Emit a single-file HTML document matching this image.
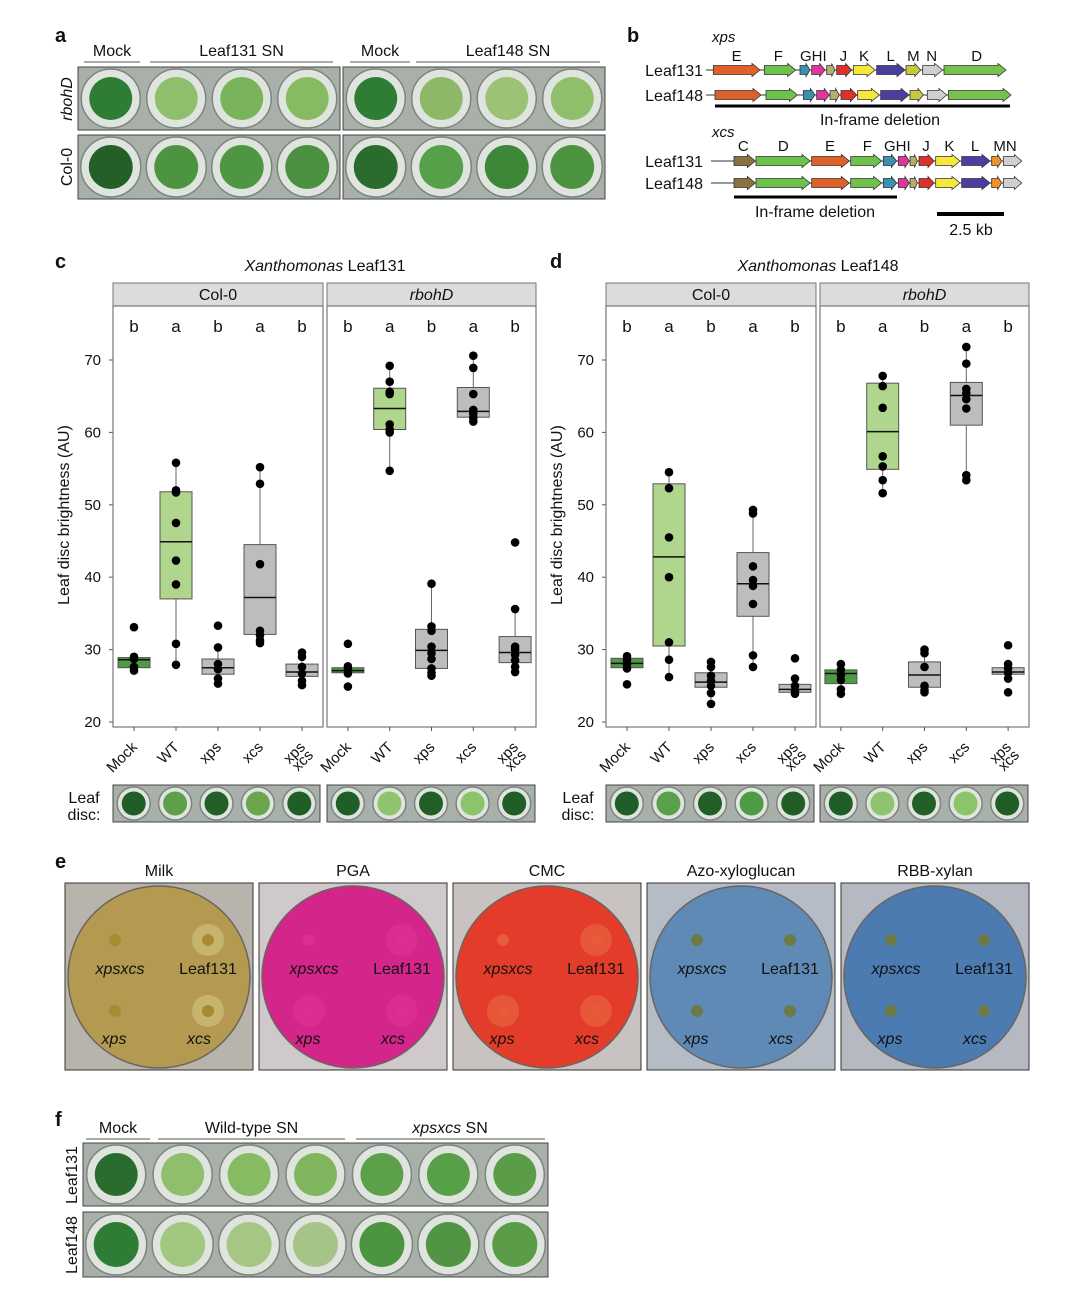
<!DOCTYPE html>
<html><head><meta charset="utf-8">
<style>
html,body{margin:0;padding:0;background:#fff;}
svg{display:block;font-family:"Liberation Sans",sans-serif;}
</style></head>
<body>
<svg id="fig" width="1080" height="1296" viewBox="0 0 1080 1296" xmlns="http://www.w3.org/2000/svg"></svg>
<script>
// ---------- data for box plots ----------
const groups = ["Mock","WT","xps","xcs","xpsxcs"];
const sigLetters = ["b","a","b","a","b"];
const yTicks = [20,30,40,50,60,70];
// panel c (Leaf131): [q1, median, q3] per group
const cColBox = [[27.5,28.6,28.9],[37,44.9,51.8],[26.6,27.5,28.7],[32.1,37.2,44.5],[26.3,26.9,28]];
const cColPts = [[33.1,29,28.7,27.6,27.1],[55.8,52,51.7,47.5,42.3,39,30.8,27.9],[33.3,30.3,28,27.3,26,25.3],[55.2,52.9,41.8,32.6,32,31.3,30.9],[29.6,29,27.6,26.7,25.7,25.1]];
const cRbBox = [[26.8,27.1,27.5],[60.4,63.3,66.1],[27.4,29.9,32.8],[62.1,62.9,66.2],[28.2,29.6,31.8]];
const cRbPts = [[30.8,27.7,27.3,26.7,24.9],[69.2,67,65.6,65.3,61.1,60.4,60,54.7],[39.1,33.2,32.6,30.4,29.5,28.7,27.4,26.8,26.4],[70.6,68.9,65.3,63.1,62.6,62,61.5],[44.8,35.6,30.4,30,29.3,28.5,27.6,26.9]];
// panel d (Leaf148)
const dColBox = [[27.5,28.1,28.8],[30.5,42.8,52.9],[24.8,25.5,26.8],[34.6,39.1,43.4],[24.1,24.5,25.2]];
const dColPts = [[29.1,28.6,28,27.4,25.2],[54.5,52.3,45.5,40,31,28.6,26.2],[28.3,27.6,26.4,25.7,25,24,22.5],[49.3,48.8,41.5,39.6,38.8,36.3,29.2,27.6],[28.8,26,25,24.3,23.9]];
const dRbBox = [[25.3,26.7,27.2],[54.9,60.1,66.8],[24.8,26.5,28.3],[61,65.1,66.9],[26.6,26.9,27.5]];
const dRbPts = [[28,27.2,26.5,25.8,24.5,23.9],[67.8,66.4,63.4,56.7,55.3,53.4,51.6],[30,29.5,27.6,25,24.4,24.1],[71.8,69.5,66,65.4,64.6,63.3,54.1,53.4],[30.6,28,27.4,26.8,26,24.1]];

const NS="http://www.w3.org/2000/svg";
const svg=document.getElementById('fig');
function el(tag,attrs,parent,text){const e=document.createElementNS(NS,tag);for(const k in attrs)e.setAttribute(k,attrs[k]);if(text!==undefined)e.textContent=text;(parent||svg).appendChild(e);return e;}
function txt(x,y,s,size,opts,parent){opts=opts||{};const t=el('text',Object.assign({x:x,y:y,'font-size':size,fill:'#111','text-anchor':opts.anchor||'middle'},opts.attrs||{}),parent,s);if(opts.italic)t.setAttribute('font-style','italic');if(opts.bold)t.setAttribute('font-weight','bold');return t;}

// panel letters
[["a",55,42],["b",627,42],["c",55,268],["d",550,268],["e",55,868],["f",55,1126]].forEach(p=>{
  const t=txt(p[1],p[2],p[0],20,{anchor:'start',bold:true});
  
});

// ---------- helpers for photo-like well strips ----------
function wellStrip(x,y,w,h,n,fills,name,rad){
  const g=el('g',{},svg);
  
  el('rect',{x:x,y:y,width:w,height:h,fill:'#a9b0aa',stroke:'#444','stroke-width':1},g);
  const sp=w/n;
  for(let i=0;i<n;i++){
    const cx=x+sp*(i+0.5),cy=y+h/2;
    el('circle',{cx:cx,cy:cy,r:Math.min(sp,h)/2-2,fill:'#dfe4df',stroke:'#7d857f','stroke-width':1.5},g);
    el('circle',{cx:cx,cy:cy,r:rad||Math.min(sp,h)/2-10,fill:fills[i]},g);
  }
  return g;
}
function header(x1,x2,y,s,italicPart){
  const t=el('text',{x:(x1+x2)/2,y:y,'font-size':16,'text-anchor':'middle',fill:'#111'},svg);
  if(italicPart){const a=el('tspan',{'font-style':'italic'},t,italicPart);el('tspan',{},t,s);}else t.textContent=s;
  el('line',{x1:x1,x2:x2,y1:y+6,y2:y+6,stroke:'#555','stroke-width':1});
}

// ---------- panel a ----------
header(84,140,56,"Mock");header(150,333,56,"Leaf131 SN");header(350,410,56,"Mock");header(416,600,56,"Leaf148 SN");
wellStrip(78,67,262,63,4,['#2f7d35','#8fbf6a','#79b35a','#86bb62'],'plate-a-rbohd-leaf131');
wellStrip(343,67,262,63,4,['#2f7d35','#8db867','#9cc276','#8fbf6a'],'plate-a-rbohd-leaf148');
wellStrip(78,135,262,64,4,['#245f28','#4c9440','#4f9642','#4a9040'],'plate-a-col0-leaf131');
wellStrip(343,135,262,64,4,['#2a6c2e','#55a048','#3e8638','#4c9440'],'plate-a-col0-leaf148');
txt(72,99,"rbohD",16,{italic:true,attrs:{transform:'rotate(-90 72 99)'}});
txt(72,167,"Col-0",16,{attrs:{transform:'rotate(-90 72 167)'}});

// ---------- panel b genes ----------
const geneColors={E:'#e0602a',F:'#6cc24a',D:'#76c24e',G:'#3b8fb0',H:'#e0359b',I:'#b5ae6a',J:'#e0302a',K:'#f5e83a',L:'#4a3fa0',Mx:'#c8c840',Mc:'#f0922a',N:'#cfcfcf',C:'#8a7240'};
function arrow(x1,x2,yc,col,g){
  const h=9,head=Math.min(8,(x2-x1)*0.4);
  el('polygon',{points:`${x1},${yc-h/2} ${x2-head},${yc-h/2} ${x2-head},${yc-h/2-2} ${x2},${yc} ${x2-head},${yc+h/2+2} ${x2-head},${yc+h/2} ${x1},${yc+h/2}`,fill:col,stroke:'#333','stroke-width':0.8},g);
}
function cluster(name,y,lineStart,genes,label){
  const g=el('g',{},svg);
  txt(703,y+6,label,16,{anchor:'end'},g);
  el('line',{x1:lineStart,x2:630+genes[genes.length-1][1]/3,y1:y,y2:y,stroke:'#333','stroke-width':1},g);
  genes.forEach(q=>arrow(630+q[0]/3,630+q[1]/3,y,geneColors[q[2]],g));
}
txt(712,42,"xps",15,{anchor:'start',italic:true});
[["E",320],["F",445],["GHI",550],["J",640],["K",702],["L",782],["M",850],["N",905],["D",1040]].forEach(l=>txt(630+l[1]/3,61,l[0],15));
cluster('xps-leaf131',70,706,[[250,390,'E'],[403,497,'F'],[510,540,'G'],[545,585,'H'],[590,615,'I'],[620,665,'J'],[670,735,'K'],[740,825,'L'],[828,872,'Mx'],[878,938,'N'],[942,1128,'D']],"Leaf131");
cluster('xps-leaf148',95,706,[[255,393,'E'],[408,502,'F'],[520,555,'G'],[560,598,'H'],[600,628,'I'],[633,680,'J'],[683,748,'K'],[752,837,'L'],[840,880,'Mx'],[892,950,'N'],[955,1143,'D']],"Leaf148");
el('line',{x1:715,x2:1010,y1:106,y2:106,stroke:'#000','stroke-width':3});
txt(880,125,"In-frame deletion",16);
txt(712,137,"xcs",15,{anchor:'start',italic:true});
[["C",340],["D",460],["E",600],["F",712],["GHI",802],["J",888],["K",958],["L",1035],["MN",1125]].forEach(l=>txt(630+l[1]/3,151,l[0],15));
const xcsGenes=[[312,376,'C'],[378,540,'F'],[545,658,'E'],[662,755,'F'],[760,800,'G'],[805,838,'H'],[840,862,'I'],[867,912,'J'],[917,990,'K'],[995,1080,'L'],[1085,1115,'Mc'],[1120,1175,'N']];
cluster('xcs-leaf131',161,711,xcsGenes,"Leaf131");
cluster('xcs-leaf148',183,711,xcsGenes,"Leaf148");
el('line',{x1:734,x2:897,y1:197,y2:197,stroke:'#000','stroke-width':3});
txt(815,217,"In-frame deletion",16);
el('line',{x1:937,x2:1004,y1:214,y2:214,stroke:'#000','stroke-width':4});
txt(971,235,"2.5 kb",16);

// ---------- panels c, d box plots ----------
const Y0=722, PX=7.24;
function yS(v){return Y0-(v-20)*PX;}
const fillCol=['#4f9a44','#b0d68e','#bdbdbd','#bdbdbd','#bdbdbd'];
function facet(x0,x1,title,italic,box,pts,id){
  const g=el('g',{},svg);
  el('rect',{x:x0,y:283,width:x1-x0,height:23,fill:'#dcdcdc',stroke:'#777','stroke-width':1},g);
  txt((x0+x1)/2,300,title,16,{italic:italic},g);
  el('rect',{x:x0,y:306,width:x1-x0,height:421,fill:'#fff',stroke:'#777','stroke-width':1.2},g);
  const sp=(x1-x0)/5;
  groups.forEach((gName,i)=>{
    const cx=x0+sp*(i+0.5);
    txt(cx,332,sigLetters[i],17,{},g);
    el('line',{x1:cx,x2:cx,y1:727,y2:731,stroke:'#555'},g);
    const b=box[i],p=pts[i];
    const iqr=b[2]-b[0];
    const inRange=p.filter(v=>v>=b[0]-1.5*iqr&&v<=b[2]+1.5*iqr);
    const lo=Math.min(b[0],...inRange),hi=Math.max(b[2],...inRange);
    const wg=el('g',{},g);
    el('line',{x1:cx,x2:cx,y1:yS(hi),y2:yS(lo),stroke:'#666','stroke-width':1},wg);
    el('rect',{x:cx-16,y:yS(b[2]),width:32,height:Math.max(1,yS(b[0])-yS(b[2])),fill:fillCol[i],stroke:'#555','stroke-width':1},wg);
    el('line',{x1:cx-16,x2:cx+16,y1:yS(b[1]),y2:yS(b[1]),stroke:'#111','stroke-width':1.5},wg);
    p.forEach(v=>{const c=el('circle',{cx:cx,cy:yS(v),r:4.3,fill:'#000'},wg);
      });
    const lx=cx+4,ly=748;
    if(gName==="xpsxcs"){
      txt(lx,ly,"xps",15,{anchor:'end',attrs:{transform:`rotate(-45 ${lx} ${ly})`}},g);
      txt(lx+8,ly+8,"xcs",15,{anchor:'end',attrs:{transform:`rotate(-45 ${lx+8} ${ly+8})`}},g);
    } else txt(lx,ly,gName,15,{anchor:'end',attrs:{transform:`rotate(-45 ${lx} ${ly})`}},g);
  });
}
function plotPanel(x0,title,colBox,colPts,rbBox,rbPts,id){
  const g=el('g',{},svg);
  const t=el('text',{x:x0+212,y:271,'font-size':16,'text-anchor':'middle',fill:'#111'},g);
  el('tspan',{'font-style':'italic'},t,"Xanthomonas");el('tspan',{},t," "+title);
  yTicks.forEach(v=>{
    txt(x0-12,yS(v)+5,String(v),15,{anchor:'end'},g);
    el('line',{x1:x0-4,x2:x0,y1:yS(v),y2:yS(v),stroke:'#555'},g);
    el('line',{x1:x0+214,x2:x0+218,y1:yS(v),y2:yS(v),stroke:'#555'},g);
  });
  const yl=txt(x0-44,515,"Leaf disc brightness (AU)",16,{attrs:{transform:`rotate(-90 ${x0-44} 515)`}},g);
  
  facet(x0,x0+210,"Col-0",false,colBox,colPts,id+'-col0');
  facet(x0+214,x0+423,"rbohD",true,rbBox,rbPts,id+'-rbohd');
}
plotPanel(113,"Leaf131",cColBox,cColPts,cRbBox,cRbPts,'panel-c');
plotPanel(606,"Leaf148",dColBox,dColPts,dRbBox,dRbPts,'panel-d');
txt(84,803,"Leaf",16);txt(84,820,"disc:",16);
txt(578,803,"Leaf",16);txt(578,820,"disc:",16);
wellStrip(113,785,207,37,5,['#1f5e26','#5ea04a','#225f27','#6aa54e','#215e26'],'leaf-disc-c-col0',12);
wellStrip(327,785,208,37,5,['#1f5e26','#8ec46e','#225f27','#8cc46b','#215e26'],'leaf-disc-c-rbohd',12);
wellStrip(606,785,208,37,5,['#1f5e26','#5aa04a','#225f27','#4f9a44','#215e26'],'leaf-disc-d-col0',12);
wellStrip(820,785,208,37,5,['#1f5e26','#8ec46e','#225f27','#8cc46b','#215e26'],'leaf-disc-d-rbohd',12);

// ---------- panel e plates ----------
const plates=[["Milk",65,'#b9b4ab','#b39a50','#c8b970','#f0ecd8'],["PGA",259,'#cfc9cb','#d4268a','#dc2f92','#f08cc8'],["CMC",453,'#c8c2c0','#e33c2a','#e75a3a','#f5a070'],["Azo-xyloglucan",647,'#b6bcc6','#5f8ab6','#6a90b8','#7a8a50'],["RBB-xylan",841,'#b4b9c2','#4c7bb2','#5a86b8','#6f7a48']];
plates.forEach(p=>{
  const x=p[1],g=el('g',{},svg);
  
  txt(x+94,876,p[0],16,{},g);
  el('rect',{x:x,y:883,width:188,height:187,fill:p[2],stroke:'#333','stroke-width':1},g);
  el('circle',{cx:x+94,cy:977,r:91,fill:p[3],stroke:'#6b6460','stroke-width':1.5},g);
  const spots=[[50,57,0],[143,57,1],[50,128,0],[143,128,1]];
  spots.forEach((s,i)=>{
    const big=(s[2]===1||(p[0]!=="Milk"&&p[0]!=="Azo-xyloglucan"&&p[0]!=="RBB-xylan"&&i===2));
    if(big)el('circle',{cx:x+s[0],cy:883+s[1],r:p[0].length>4&&p[0]!=="Milk"?6:16,fill:p[4],opacity:0.85},g);
    el('circle',{cx:x+s[0],cy:883+s[1],r:6,fill:p[0].indexOf('xyl')>=0?'#6d7a45':(p[0]==="Milk"?'#a88a30':p[4])},g);
  });
  txt(x+55,974,"xpsxcs",16,{italic:true},g);
  txt(x+143,974,"Leaf131",16,{},g);
  txt(x+49,1044,"xps",16,{italic:true},g);
  txt(x+134,1044,"xcs",16,{italic:true},g);
});

// ---------- panel f ----------
header(86,150,1133,"Mock");header(158,345,1133,"Wild-type SN");
(function(){const t=el('text',{x:450,y:1133,'font-size':16,'text-anchor':'middle',fill:'#111'});el('tspan',{'font-style':'italic'},t,"xpsxcs");el('tspan',{},t," SN");el('line',{x1:356,x2:545,y1:1139,y2:1139,stroke:'#555'});})();
wellStrip(83,1143,465,63,7,['#2a6c2e','#8fbf6a','#86bb62','#7fb55c','#5da04a','#58a048','#5a9c48'],'plate-f-leaf131');
wellStrip(83,1212,465,65,7,['#2f7d35','#a2c87f','#a6c784','#a6c488','#4c9440','#509444','#5a9c48'],'plate-f-leaf148');
txt(77,1175,"Leaf131",16,{attrs:{transform:'rotate(-90 77 1175)'}});
txt(77,1245,"Leaf148",16,{attrs:{transform:'rotate(-90 77 1245)'}});
</script>
</body></html>
